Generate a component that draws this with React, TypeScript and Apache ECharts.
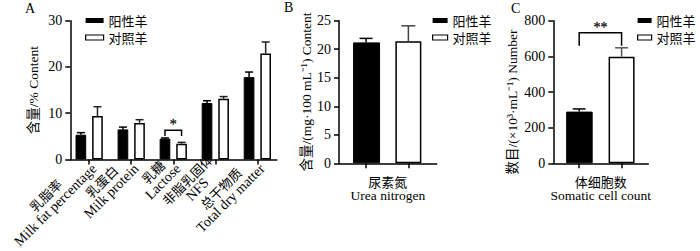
import React, { useEffect, useRef } from 'react';
import * as echarts from 'echarts';

// ---------- data ----------
const groupNames = ['阳性羊', '对照羊'];

const catsAcn = ['乳脂率', '乳蛋白', '乳糖', '非脂乳固体', '总干物质'];
const catsAen = ['Milk fat percentage', 'Milk protein', 'Lactose', 'NFS', 'Total dry matter'];
const posA = [5.35, 6.5, 4.5, 12.2, 17.8];
const posAsd = [0.45, 0.5, 0.15, 0.5, 1.1];
const ctrlA = [9.4, 7.9, 3.4, 13.1, 22.9];
const ctrlAsd = [2.0, 0.7, 0.3, 0.5, 2.5];

const catB = ['尿素氮', 'Urea nitrogen'];
const posB = [21.2];
const posBsd = [0.7];
const ctrlB = [21.4];
const ctrlBsd = [2.7];

const catC = ['体细胞数', 'Somatic cell count'];
const posC = [290];
const posCsd = [15];
const ctrlC = [598];
const ctrlCsd = [50];

// significance brackets: [xStart, xEnd, top, leg]
const sigA = [[3, 3, 6.3, 5.1]];
const sigAmark = ['*'];
const sigC = [[1, 2, 733, 660]];
const sigCmark = ['**'];

const yTitleA = '含量/% Content';
const yTitleB = '含量/(mg·100 mL⁻¹) Content';
const yTitleC = '数目/(×10³·mL⁻¹) Number';

// ---------- styles ----------
const SERIF = "'Liberation Serif', 'Noto Sans CJK SC', serif";
const CJK = "'Noto Sans CJK SC', sans-serif";
const INK = '#000';

export default function App() {
  const ref = useRef<HTMLDivElement>(null);

  useEffect(() => {
    if (!ref.current) return;
    const chart = echarts.init(ref.current, undefined, { renderer: 'svg' });

    const errSeries = (xi: number, yi: number, data: number[][], offset: number, cap: number, color: string) => ({
      type: 'custom',
      xAxisIndex: xi,
      yAxisIndex: yi,
      z: 5,
      silent: true,
      itemStyle: { color },
      data,
      renderItem: (_p: any, api: any) => {
        const x = api.value(0);
        const v = api.value(1);
        const t = api.value(2);
        const b = api.coord([x, v]);
        const tp = api.coord([x, t]);
        const cx = b[0] + offset;
        const st = { stroke: color, lineWidth: 1.5 };
        return {
          type: 'group',
          children: [
            { type: 'line', shape: { x1: cx, y1: b[1], x2: cx, y2: tp[1] }, style: st },
            { type: 'line', shape: { x1: cx - cap / 2, y1: tp[1], x2: cx + cap / 2, y2: tp[1] }, style: st },
          ],
        };
      },
    });

    const bracketSeries = (xi: number, yi: number, data: number[][], dx1: number, dx2: number) => ({
      type: 'custom',
      xAxisIndex: xi,
      yAxisIndex: yi,
      z: 6,
      silent: true,
      itemStyle: { color: INK },
      data,
      renderItem: (_p: any, api: any) => {
        const a = api.coord([api.value(0), api.value(2)]);
        const b = api.coord([api.value(1), api.value(2)]);
        const l = api.coord([api.value(0), api.value(3)]);
        const x1 = a[0] + dx1;
        const x2 = b[0] + dx2;
        return {
          type: 'polyline',
          shape: { points: [[x1, l[1]], [x1, a[1]], [x2, a[1]], [x2, l[1]]] },
          style: { stroke: INK, lineWidth: 1.5, fill: 'none' },
        };
      },
    });

    const markSeries = (xi: number, yi: number, data: number[][], marks: string[]) => ({
      type: 'scatter',
      xAxisIndex: xi,
      yAxisIndex: yi,
      z: 7,
      silent: true,
      symbol: 'circle',
      symbolSize: 1,
      itemStyle: { color: 'rgba(0,0,0,0)' },
      data: data.map((d) => [(d[0] + d[1]) / 2, d[2]]),
      label: {
        show: true,
        position: 'top',
        distance: -2,
        formatter: (p: any) => marks[p.dataIndex],
        color: '#000',
        textBorderColor: '#000',
        textBorderWidth: 0.4,
        fontSize: 14,
        fontFamily: SERIF,
      },
    });

    const axisLine = { show: true, onZero: false, lineStyle: { color: INK, width: 1.5 } };
    const yAxisBase = (gi: number, max: number, interval: number, name: string, gap: number, pad?: number[]) => ({
      type: 'value',
      gridIndex: gi,
      min: 0,
      max,
      interval,
      axisLine,
      axisTick: { show: true, length: 5, lineStyle: { color: INK, width: 1.5 } },
      axisLabel: { fontSize: 14, fontFamily: SERIF, color: INK, margin: 8 },
      splitLine: { show: false },
      name,
      nameLocation: 'middle',
      nameGap: gap,
      nameTextStyle: { fontSize: 13.5, fontFamily: SERIF, color: INK, padding: pad || 0 },
    });

    const xPosA = catsAcn.map((_, i) => i + 1);
    const twoName = (c: string[]) => `{c|${c[0]}}\n{e|${c[1]}}`;
    const nameRich = {
      c: { fontSize: 13, fontFamily: CJK, color: INK, lineHeight: 14, align: 'center' },
      e: { fontSize: 13.5, fontFamily: SERIF, color: INK, lineHeight: 14, align: 'center' },
    };

    const xAxisSingle = (gi: number, min: number, max: number, c: string[]) => ({
      type: 'value',
      gridIndex: gi,
      min,
      max,
      axisLine,
      axisTick: { show: true, customValues: [1, 2], length: 5, lineStyle: { color: INK, width: 1.5 } },
      axisLabel: { show: false },
      splitLine: { show: false },
      name: twoName(c),
      nameLocation: 'middle',
      nameGap: 11,
      nameTextStyle: { rich: nameRich },
    });

    const legendData = [
      { name: groupNames[0], itemStyle: { color: '#000', borderColor: '#000', borderWidth: 0 } },
      { name: groupNames[1], itemStyle: { color: '#fff', borderColor: '#000', borderWidth: 1.2 } },
    ];
    const mkLegend = (left: number, w: number) => ({
      left,
      top: 14,
      orient: 'vertical',
      itemWidth: w,
      itemHeight: 5,
      itemGap: 4,
      icon: 'rect',
      selectedMode: false,
      padding: 0,
      textStyle: { fontSize: 13, lineHeight: 13, fontFamily: CJK, color: INK },
      data: legendData,
    });

    const blackStyle = { color: '#000', borderColor: '#000', borderWidth: 1 };
    const whiteStyle = { color: '#fff', borderColor: '#000', borderWidth: 1.5 };

    const option: any = {
      animation: false,
      textStyle: { fontFamily: SERIF },
      grid: [
        { left: 62, top: 20.7, width: 214.7, height: 142.6 },
        { left: 339, top: 20.7, width: 97.7, height: 142.6 },
        { left: 553.3, top: 20.7, width: 95, height: 142.6 },
      ],
      legend: [mkLegend(85, 18), mkLegend(432, 15), mkLegend(637, 14)],
      graphic: [
        { type: 'text', left: 25, top: 1, style: { text: 'A', font: `14px ${SERIF}`, fill: INK } },
        { type: 'text', left: 284, top: 0, style: { text: 'B', font: `14px ${SERIF}`, fill: INK } },
        { type: 'text', left: 511, top: 1, style: { text: 'C', font: `14px ${SERIF}`, fill: INK } },
      ],
      xAxis: [
        {
          type: 'value',
          gridIndex: 0,
          min: 0.55,
          max: 5.46,
          axisLine,
          axisTick: { show: true, customValues: xPosA, length: 5, lineStyle: { color: INK, width: 1.5 } },
          axisLabel: {
            customValues: xPosA,
            rotate: 45,
            margin: 2,
            formatter: (v: number) => {
              const i = Math.round(v) - 1;
              return `{c|${catsAcn[i]}}\n{e|${catsAen[i]}}`;
            },
            rich: {
              c: { fontSize: 13, fontFamily: CJK, color: INK, lineHeight: 14, align: 'center' },
              e: { fontSize: 14, fontFamily: SERIF, color: INK, lineHeight: 14, align: 'center' },
            },
          },
          splitLine: { show: false },
        },
        xAxisSingle(1, 0.36, 2.67, catB),
        xAxisSingle(2, 0.39, 2.63, catC),
      ],
      yAxis: [
        yAxisBase(0, 30, 10, yTitleA, 30),
        yAxisBase(1, 25, 5, yTitleB, 26),
        yAxisBase(2, 800, 200, yTitleC, 34, [0, 20, 0, 0]),
      ],
      series: [
        {
          type: 'bar', name: groupNames[0], xAxisIndex: 0, yAxisIndex: 0,
          data: posA.map((v, i) => [i + 1, v]), barWidth: 10.7, barGap: '55%', itemStyle: blackStyle,
        },
        {
          type: 'bar', name: groupNames[1], xAxisIndex: 0, yAxisIndex: 0,
          data: ctrlA.map((v, i) => [i + 1, v]), barWidth: 10.7, barGap: '55%', itemStyle: whiteStyle,
        },
        errSeries(0, 0, posA.map((v, i) => [i + 1, v, v + posAsd[i]]), -8.3, 8, '#000'),
        errSeries(0, 0, ctrlA.map((v, i) => [i + 1, v, v + ctrlAsd[i]]), 8.3, 8, '#222'),
        bracketSeries(0, 0, sigA, -8.3, 8.3),
        markSeries(0, 0, sigA, sigAmark),

        {
          type: 'bar', name: groupNames[0], xAxisIndex: 1, yAxisIndex: 1,
          data: posB.map((v) => [1, v]), barWidth: 27, barGap: '-100%', itemStyle: blackStyle,
        },
        {
          type: 'bar', name: groupNames[1], xAxisIndex: 1, yAxisIndex: 1,
          data: ctrlB.map((v) => [2, v]), barWidth: 26, barGap: '-100%', itemStyle: whiteStyle,
        },
        errSeries(1, 1, posB.map((v, i) => [1, v, v + posBsd[i]]), 0, 13, '#000'),
        errSeries(1, 1, ctrlB.map((v, i) => [2, v, v + ctrlBsd[i]]), 0, 14, '#444'),

        {
          type: 'bar', name: groupNames[0], xAxisIndex: 2, yAxisIndex: 2,
          data: posC.map((v) => [1, v]), barWidth: 26.5, barGap: '-100%', itemStyle: blackStyle,
        },
        {
          type: 'bar', name: groupNames[1], xAxisIndex: 2, yAxisIndex: 2,
          data: ctrlC.map((v) => [2, v]), barWidth: 26, barGap: '-100%', itemStyle: whiteStyle,
        },
        errSeries(2, 2, posC.map((v, i) => [1, v, v + posCsd[i]]), 0, 13, '#000'),
        errSeries(2, 2, ctrlC.map((v, i) => [2, v, v + ctrlCsd[i]]), 0, 13, '#555'),
        bracketSeries(2, 2, sigC, 0, 0),
        markSeries(2, 2, sigC, sigCmark),
      ],
    };

    chart.setOption(option);
    return () => chart.dispose();
  }, []);

  return (
    <div
      ref={ref}
      style={{ position: 'fixed', left: 0, top: 0, width: 700, height: 251, background: '#fff' }}
    />
  );
}
